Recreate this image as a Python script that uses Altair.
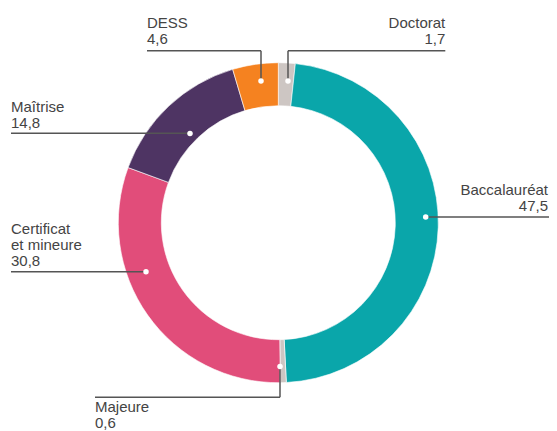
import altair as alt
import pandas as pd

# Data (clockwise from top)
categories = ["Doctorat", "Baccalauréat", "Majeure", "Certificat et mineure", "Maîtrise", "DESS"]
values = [1.7, 47.5, 0.6, 30.8, 14.8, 4.6]
value_labels = ["1,7", "47,5", "0,6", "30,8", "14,8", "4,6"]
label_texts = ["Doctorat", "Baccalauréat", "Majeure", "Certificat\net mineure", "Maîtrise", "DESS"]
colors = ["#CDC6C3", "#0AA6AA", "#CDC6C3", "#E14D7A", "#4E3463", "#F58220"]

W, H = 541, 423
CX, CY = 270.3, 214.7
R_OUT, R_IN = 160, 117

df = pd.DataFrame({"cat": categories, "value": values, "idx": list(range(len(categories)))})

arc = alt.Chart(df).mark_arc(innerRadius=R_IN, outerRadius=R_OUT, stroke="white", strokeWidth=0.6).encode(
    theta=alt.Theta("value:Q", stack=True),
    color=alt.Color("cat:N", scale=alt.Scale(domain=categories, range=colors), legend=None),
    order=alt.Order("idx:Q"),
    x=alt.value(CX),
    y=alt.value(CY),
)

# Annotation layout (pixel positions of leader lines, dots and labels)
dots = pd.DataFrame({
    "x": [280, 417.7, 272, 138, 182, 253],
    "y": [73, 209, 358.5, 263.7, 125.5, 73],
})
segs = pd.DataFrame({
    "x": [280, 280, 417.7, 87, 272, 3, 3, 139, 253],
    "x2": [437.3, 280, 541, 272, 272, 138, 182, 253, 253],
    "y": [42.7, 42.7, 209, 389.3, 358.5, 263.7, 125.3, 42.7, 42.7],
    "y2": [42.7, 73, 209, 389.3, 389.3, 263.7, 125.3, 42.7, 73],
})
labels = pd.DataFrame({
    "text": [f"{t}\n{v}" for t, v in zip(label_texts, value_labels)],
    "x": [437.3, 540, 87, 3, 3, 139],
    "y": [19.5, 187, 404, 225.5, 103.7, 19.5],
    "align": ["right", "right", "left", "left", "left", "left"],
})

rules = alt.Chart(segs).mark_rule(color="#555555", strokeWidth=1.5).encode(
    x=alt.X("x:Q", scale=None), x2="x2:Q",
    y=alt.Y("y:Q", scale=None), y2="y2:Q",
)

points = alt.Chart(dots).mark_circle(size=30, color="white", opacity=1).encode(
    x=alt.X("x:Q", scale=None), y=alt.Y("y:Q", scale=None),
)

def text_layer(align):
    return alt.Chart(labels[labels["align"] == align]).mark_text(
        align=align, baseline="alphabetic", fontSize=15, lineHeight=16, lineBreak="\n",
        font="Liberation Sans", color="#444444",
    ).encode(
        x=alt.X("x:Q", scale=None), y=alt.Y("y:Q", scale=None), text="text:N",
    )

chart = alt.layer(arc, rules, points, text_layer("left"), text_layer("right")).properties(
    width=W, height=H, autosize=alt.AutoSizeParams(type="none"), padding=0,
).configure_view(stroke=None)

chart.save("out.html", embed_options={"renderer": "svg", "actions": False})
